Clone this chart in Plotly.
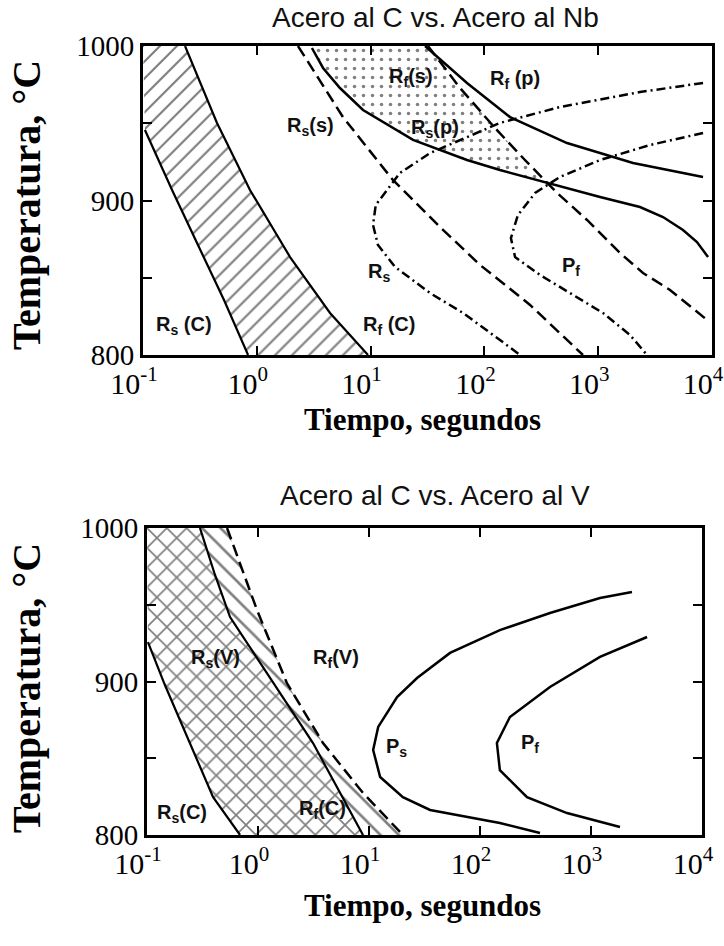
import plotly.graph_objects as go

# ---------------- DATA (time in s, temperature in °C) ----------------
# Top chart: C steel vs Nb steel
rsC_t = [0.104, 0.180, 0.310, 0.515, 0.838]
rsC_T = [945.6, 906.8, 869.9, 835.6, 800.0]
rfC_t = [0.234, 0.447, 0.871, 1.96, 4.40, 9.49]
rfC_T = [1000.0, 950.2, 906.8, 863.4, 827.2, 800.0]

rss_t = [2.30, 5.72, 15.7, 40.7, 91.5, 252, 735]
rss_T = [1000.0, 954.0, 913.3, 882.9, 858.3, 832.4, 800.0]
rfs_t = [31.9, 61.1, 124, 227, 435, 798, 1556, 2477, 4276, 9040]
rfs_T = [1000.0, 972.8, 946.9, 926.2, 904.9, 887.4, 866.0, 853.1, 842.1, 822.7]
rsp_t = [3.05, 3.82, 5.38, 8.58, 23.6, 70.3, 137, 355, 1038, 2328, 3710, 5560, 7380, 9230]
rsp_T = [998.7, 985.8, 972.8, 958.6, 939.2, 926.2, 919.7, 911.3, 902.3, 895.8, 889.3, 880.9, 873.1, 863.4]
rfp_t = [30.1, 70.3, 168, 532, 2023, 8340]
rfp_T = [1000.0, 976.1, 954.0, 937.2, 924.3, 915.2]

rsNb_t = [8340, 2328, 461, 137, 33.3, 18.1, 11.1, 10.5, 11.6, 16.4, 33.3, 64.9, 137, 206]
rsNb_T = [976.1, 970.2, 960.5, 950.2, 930.7, 917.8, 897.1, 884.2, 871.2, 857.0, 840.1, 827.2, 809.7, 800.0]
pfNb_t = [8340, 2851, 1038, 461, 279, 197, 171, 186, 308, 625, 1102, 1901, 2685]
pfNb_T = [943.7, 935.9, 926.2, 915.2, 904.9, 890.6, 875.7, 863.4, 851.8, 838.2, 827.2, 813.0, 800.0]

# Bottom chart: C steel vs V steel
b_rsC_t = [0.102, 0.145, 0.198, 0.282, 0.394, 0.689]
b_rsC_T = [925.7, 897.7, 874.9, 848.9, 824.7, 800.0]
b_rfC_t = [0.300, 0.410, 0.560, 1.28, 3.13, 8.83]
b_rfC_T = [1000.0, 969.4, 942.0, 902.9, 859.9, 800.0]
b_rfV_t = [0.526, 0.979, 1.82, 3.85, 8.83, 20.2]
b_rfV_T = [1000.0, 946.6, 899.0, 859.9, 827.4, 800.0]
b_ps_t = [2339, 1205, 427, 151, 53.7, 27.1, 17.9, 12.1, 10.9, 12.6, 20.2, 35.5, 151, 347]
b_ps_T = [958.3, 954.4, 944.6, 933.5, 918.6, 902.3, 889.9, 870.4, 855.4, 837.8, 824.7, 816.3, 807.8, 801.3]
b_pf_t = [3199, 1205, 427, 186, 142, 151, 265, 608, 1824]
b_pf_T = [929.0, 916.0, 896.4, 876.9, 859.9, 842.3, 824.7, 814.3, 805.2]

x_tickvals = [0.1, 1, 10, 100, 1000, 10000]
x_ticktext = ["10<sup>-1</sup>", "10<sup>0</sup>", "10<sup>1</sup>", "10<sup>2</sup>",
              "10<sup>3</sup>", "10<sup>4</sup>"]
y_tickvals = [800, 850, 900, 950, 1000]
y_ticktext = ["800", "", "900", "", "1000"]

titles = ["Acero al C vs. Acero al Nb", "Acero al C vs. Acero al V"]
xtitle = "Tiempo, segundos"
ytitle = "Temperatura, °C"

# label texts with (log10 time, temperature) positions
top_labels = [("R<sub>s</sub>(s)", 0.468, 947.6), ("R<sub>f</sub>(s)", 1.355, 979.3),
              ("R<sub>s</sub>(p)", 1.566, 946.9), ("R<sub>f</sub> (p)", 2.269, 978.6),
              ("R<sub>s</sub>", 1.074, 853.1), ("P<sub>f</sub>", 2.761, 857.0),
              ("R<sub>s</sub> (C)", -0.640, 819.4), ("R<sub>f</sub> (C)", 1.162, 819.4)]
bot_labels = [("R<sub>s</sub>(C)", -0.685, 814.3), ("R<sub>s</sub>(V)", -0.387, 915.3),
              ("R<sub>f</sub>(V)", 0.703, 915.3), ("R<sub>f</sub>(C)", 0.577, 816.3),
              ("P<sub>s</sub>", 1.252, 857.3), ("P<sub>f</sub>", 2.450, 859.9)]

# ---------------- FIGURE ----------------
fig = go.Figure()
BLACK = "black"

def line(x, y, xa, ya, dash="solid", w=2.2):
    fig.add_trace(go.Scatter(x=x, y=y, mode="lines", xaxis=xa, yaxis=ya,
                             line=dict(color=BLACK, width=w, dash=dash),
                             hoverinfo="skip", showlegend=False))

def region(x, y, xa, ya, shape, size, sol):
    fig.add_trace(go.Scatter(x=x, y=y, mode="lines", fill="toself", xaxis=xa, yaxis=ya,
                             line=dict(width=0, color="rgba(0,0,0,0)"),
                             fillcolor="white",
                             fillpattern=dict(shape=shape, size=size, solidity=sol,
                                              fgcolor=BLACK, bgcolor="white"),
                             hoverinfo="skip", showlegend=False))

# top hatched region (C steel)
region([0.1] + rsC_t + [9.49] + rfC_t[::-1], [1000] + rsC_T + [800] + rfC_T[::-1], "x", "y", "/", 12, 0.18)
# dotted region between Rs(p) and Rf(s)
cross_t, cross_T = 340, 912.6
s1 = [(t, T) for t, T in zip(rsp_t, rsp_T) if t < cross_t]
l2 = [(t, T) for t, T in zip(rfs_t, rfs_T) if t < cross_t]
region([p[0] for p in s1] + [cross_t] + [p[0] for p in l2[::-1]],
       [p[1] for p in s1] + [cross_T] + [p[1] for p in l2[::-1]], "x", "y", ".", 9, 0.12)

# bottom regions
region([0.1] + b_rsC_t + b_rfC_t[::-1], [1000] + b_rsC_T + b_rfC_T[::-1], "x2", "y2", "x", 14, 0.22)
region(b_rfC_t + b_rfV_t[::-1], b_rfC_T + b_rfV_T[::-1], "x2", "y2", "\\", 13, 0.2)

# top lines
line(rsC_t, rsC_T, "x", "y")
line(rfC_t, rfC_T, "x", "y")
line(rss_t, rss_T, "x", "y", "12px,6px", 2.5)
line(rfs_t, rfs_T, "x", "y", "12px,6px", 2.5)
line(rsp_t, rsp_T, "x", "y", "solid", 2.5)
line(rfp_t, rfp_T, "x", "y", "solid", 2.5)
line(rsNb_t, rsNb_T, "x", "y", "9px,4px,2px,4px", 2.5)
line(pfNb_t, pfNb_T, "x", "y", "9px,4px,2px,4px", 2.5)

# bottom lines
line(b_rsC_t, b_rsC_T, "x2", "y2")
line(b_rfC_t, b_rfC_T, "x2", "y2")
line(b_rfV_t, b_rfV_T, "x2", "y2", "12px,6px", 2.5)
line(b_ps_t, b_ps_T, "x2", "y2", "solid", 2.5)
line(b_pf_t, b_pf_T, "x2", "y2", "solid", 2.5)

W, H = 724, 946
def px(v):
    return v / W
def py(v):
    return 1 - v / H

axis_common = dict(type="log", range=[-1, 4], tickvals=x_tickvals, ticktext=x_ticktext,
                   ticks="inside", ticklen=9, tickwidth=2, tickcolor=BLACK,
                   showline=True, linewidth=3, linecolor=BLACK, mirror="ticks",
                   showgrid=False, zeroline=False, automargin=False,
                   ticklabeloverflow="allow", ticklabelshift=-9,
                   tickfont=dict(family="Liberation Serif", size=30, color=BLACK))
yaxis_common = dict(range=[800, 1000], tickvals=y_tickvals, ticktext=y_ticktext,
                    ticks="inside", ticklen=9, tickwidth=2, tickcolor=BLACK,
                    showline=True, linewidth=3, linecolor=BLACK, mirror="ticks",
                    showgrid=False, zeroline=False, automargin=False,
                    ticklabeloverflow="allow",
                    tickfont=dict(family="Liberation Serif", size=29, color=BLACK))

fig.update_layout(
    width=W, height=H, margin=dict(l=0, r=0, t=0, b=0, pad=0), autosize=False,
    paper_bgcolor="white", plot_bgcolor="white", showlegend=False,
    xaxis=dict(axis_common, domain=[px(143), px(712)], anchor="y"),
    yaxis=dict(yaxis_common, domain=[py(355), py(46)], anchor="x"),
    xaxis2=dict(axis_common, domain=[px(147), px(702)], anchor="y2"),
    yaxis2=dict(yaxis_common, domain=[py(835), py(528)], anchor="x2"),
)

ann = []
for txt, yc in zip(titles, [18, 495]):
    ann.append(dict(text=txt, x=px(435), y=py(yc), xref="paper", yref="paper",
                    xanchor="center", yanchor="middle",
                    showarrow=False, font=dict(family="Liberation Sans", size=28, color="#111")))
for yc in [420, 905]:
    ann.append(dict(text="<b>" + xtitle + "</b>", x=px(422), y=py(yc), xref="paper", yref="paper",
                    xanchor="center", yanchor="middle",
                    showarrow=False, font=dict(family="Liberation Serif", size=31, color=BLACK)))
for yc in [205, 688]:
    ann.append(dict(text="<b>" + ytitle + "</b>", x=px(26), y=py(yc), xref="paper", yref="paper",
                    xanchor="center", yanchor="middle",
                    showarrow=False, textangle=-90,
                    font=dict(family="Liberation Serif", size=40, color=BLACK)))
for txt, lx, ly in top_labels:
    ann.append(dict(text="<b>" + txt + "</b>", x=lx, y=ly, xref="x", yref="y", showarrow=False,
                    xanchor="center", yanchor="middle",
                    font=dict(family="Liberation Sans", size=20, color="#111")))
for txt, lx, ly in bot_labels:
    ann.append(dict(text="<b>" + txt + "</b>", x=lx, y=ly, xref="x2", yref="y2", showarrow=False,
                    xanchor="center", yanchor="middle",
                    font=dict(family="Liberation Sans", size=20, color="#111")))
fig.update_layout(annotations=ann)

fig.write_html("out.html")
